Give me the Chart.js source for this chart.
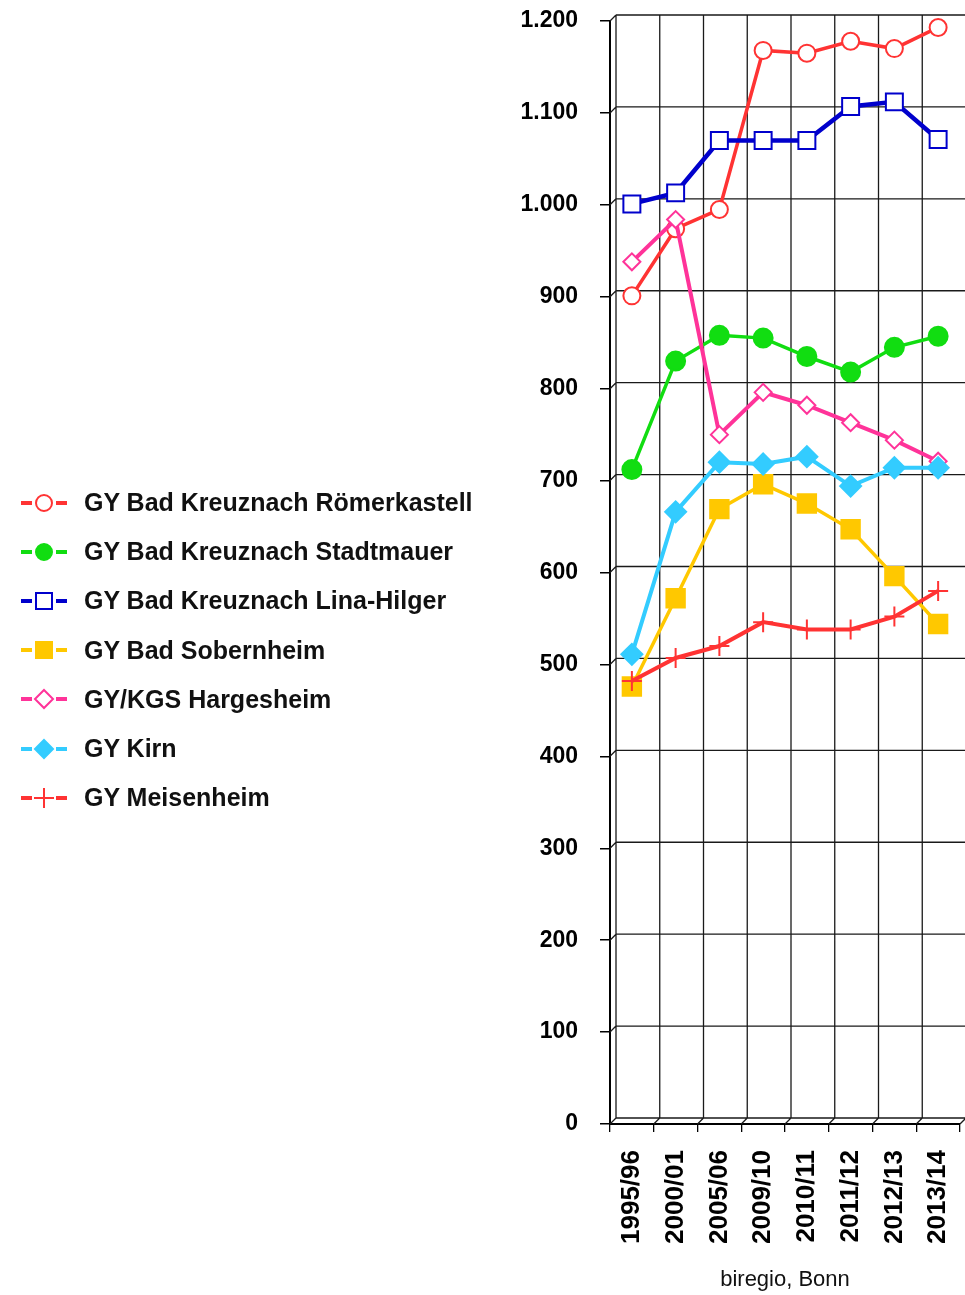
<!DOCTYPE html>
<html>
<head>
<meta charset="utf-8">
<title>Gymnasien Bad Kreuznach</title>
<script src="https://cdn.jsdelivr.net/npm/chart.js"></script>
<style>
  body { margin: 0; background: #fff; }
  #wrap { position: relative; width: 965px; height: 1295px; }
  #legend { position: absolute; left: 21px; top: 478px; font-family: "Liberation Sans", Arial, sans-serif;
            font-weight: bold; font-size: 25px; color: #111; }
  .item { display: flex; align-items: center; height: 49.2px; white-space: nowrap; }
  .item svg { margin-right: 17px; }
</style>
</head>
<body>
<div id="wrap">
  <canvas id="myChart" width="965" height="1295"></canvas>
  <div id="legend"></div>
</div>
<script>
var years = ['1995/96', '2000/01', '2005/06', '2009/10', '2010/11', '2011/12', '2012/13', '2013/14'];

var names = ['GY Bad Kreuznach Römerkastell', 'GY Bad Kreuznach Stadtmauer', 'GY Bad Kreuznach Lina-Hilger',
             'GY Bad Sobernheim', 'GY/KGS Hargesheim', 'GY Kirn', 'GY Meisenheim'];

var roemerkastell = [901, 974, 995, 1168, 1165, 1178, 1170, 1193];
var stadtmauer    = [712, 830, 858, 855, 835, 818, 845, 857];
var linaHilger    = [1001, 1013, 1070, 1070, 1070, 1107, 1112, 1071];
var sobernheim    = [476, 572, 669, 696, 675, 647, 596, 544];
var hargesheim    = [938, 984, 750, 796, 782, 763, 744, 721];
var kirn          = [511, 666, 720, 718, 726, 694, 714, 714];
var meisenheim    = [482, 507, 520, 546, 538, 538, 552, 580];

var yTicks = [0, 100, 200, 300, 400, 500, 600, 700, 800, 900, 1000, 1100, 1200];

// look of each series: colour, marker, filled?
var styles = [
  { color: '#ff3333', shape: 'circle',  r: 8.5, fill: false, lw: 3.5 },
  { color: '#11dd11', shape: 'circle',  r: 9.5, fill: true,  lw: 3.5 },
  { color: '#0000cc', shape: 'rect',    r: 12,  fill: false, lw: 4.5 },
  { color: '#ffc800', shape: 'rect',    r: 13,  fill: true,  lw: 3.5 },
  { color: '#ff3399', shape: 'rectRot', r: 8.5, fill: false, lw: 4 },
  { color: '#33ccff', shape: 'rectRot', r: 10.5, fill: true, lw: 4 },
  { color: '#ff3333', shape: 'cross',   r: 10,  fill: false, lw: 4 }
];
var series = [roemerkastell, stadtmauer, linaHilger, sobernheim, hargesheim, kirn, meisenheim];

var datasets = series.map(function (vals, i) {
  var s = styles[i];
  return {
    label: names[i],
    data: vals,
    borderColor: s.color,
    borderWidth: s.lw,
    tension: 0,
    clip: false,
    pointStyle: s.shape,
    pointRadius: s.r,
    pointHoverRadius: s.r,
    pointBorderColor: s.color,
    pointBackgroundColor: s.fill ? s.color : '#ffffff',
    pointBorderWidth: 2,
    order: series.length - i   // later series on top
  };
});

// excel-ish 3d back wall: grid shifted up/right from the axes
var wallGrid = {
  id: 'wallGrid',
  beforeDatasetsDraw: function (chart) {
    var ctx = chart.ctx, a = chart.chartArea, x = chart.scales.x, y = chart.scales.y, d = 6;
    ctx.save();
    ctx.strokeStyle = '#1a1a1a';
    ctx.lineWidth = 1.3;
    ctx.beginPath();
    y.ticks.forEach(function (t) {
      var py = y.getPixelForValue(t.value);
      ctx.moveTo(a.left + d, py - d); ctx.lineTo(chart.width, py - d);
      ctx.moveTo(a.left, py); ctx.lineTo(a.left + d, py - d);
    });
    for (var i = 0; i <= years.length; i++) {
      var px = x.getPixelForValue(i - 0.5);
      ctx.moveTo(px + d, a.top - d); ctx.lineTo(px + d, a.bottom - d);
      ctx.moveTo(px, a.bottom); ctx.lineTo(px + d, a.bottom - d);
    }
    ctx.stroke();
    ctx.restore();
  }
};

var ctx = document.getElementById('myChart').getContext('2d');
var myChart = new Chart(ctx, {
  type: 'line',
  data: { labels: years, datasets: datasets },
  plugins: [wallGrid],
  options: {
    responsive: false,
    animation: false,
    devicePixelRatio: 1,
    layout: { autoPadding: false, padding: { left: 520, right: 5, top: 21, bottom: 0 } },
    plugins: { legend: { display: false }, tooltip: { enabled: false } },
    scales: {
      x: {
        offset: true,
        grid: { display: true, offset: true, drawOnChartArea: false, tickLength: 8, color: '#000', lineWidth: 1.3 },
        border: { display: true, color: '#000', width: 2 },
        ticks: {
          autoSkip: false, minRotation: 90, maxRotation: 90, padding: 18, color: '#000',
          font: { family: '"Liberation Sans", Arial, sans-serif', size: 26, weight: 'bold' }
        },
        title: {
          display: true, text: 'biregio, Bonn', color: '#111', padding: { top: 0, bottom: 2 },
          font: { family: '"Liberation Sans", Arial, sans-serif', size: 22 }
        },
        afterFit: function (s) { s.height = 171; s.paddingLeft = 0; s.paddingRight = 0; }
      },
      y: {
        min: 0, max: 1200,
        afterBuildTicks: function (s) { s.ticks = yTicks.map(function (v) { return { value: v }; }); },
        grid: { display: true, drawOnChartArea: false, tickLength: 10, color: '#000', lineWidth: 1.5 },
        border: { display: true, color: '#000', width: 2 },
        ticks: {
          padding: 22, color: '#000',
          font: { family: '"Liberation Sans", Arial, sans-serif', size: 23, weight: 'bold' },
          callback: function (v) { return String(v).replace(/(\d)(?=\d{3}$)/, '$1.'); }
        },
        afterFit: function (s) { s.width = 90; s.paddingTop = 0; s.paddingBottom = 0; }
      }
    }
  }
});

// legend built from the same styles
function symbol(s) {
  var c = s.color, mid = 23, cy = 10, m;
  if (s.shape === 'circle') {
    m = '<circle cx="' + mid + '" cy="' + cy + '" r="8" fill="' + (s.fill ? c : '#fff') + '" stroke="' + c + '" stroke-width="2"/>';
  } else if (s.shape === 'rect') {
    m = '<rect x="' + (mid - 8) + '" y="' + (cy - 8) + '" width="16" height="16" fill="' + (s.fill ? c : '#fff') + '" stroke="' + c + '" stroke-width="2"/>';
  } else if (s.shape === 'rectRot') {
    m = '<polygon points="' + mid + ',' + (cy - 9) + ' ' + (mid + 9) + ',' + cy + ' ' + mid + ',' + (cy + 9) + ' ' + (mid - 9) + ',' + cy +
        '" fill="' + (s.fill ? c : '#fff') + '" stroke="' + c + '" stroke-width="2"/>';
  } else {
    m = '<path d="M' + mid + ' ' + (cy - 10) + 'V' + (cy + 10) + 'M' + (mid - 10) + ' ' + cy + 'H' + (mid + 10) + '" stroke="' + c + '" stroke-width="2"/>';
  }
  return '<svg width="46" height="22" viewBox="0 -1 46 22">' +
         '<line x1="0" y1="' + cy + '" x2="11" y2="' + cy + '" stroke="' + c + '" stroke-width="4"/>' +
         '<line x1="35" y1="' + cy + '" x2="46" y2="' + cy + '" stroke="' + c + '" stroke-width="4"/>' + m + '</svg>';
}
var html = '';
names.forEach(function (n, i) {
  html += '<div class="item">' + symbol(styles[i]) + '<span>' + n + '</span></div>';
});
document.getElementById('legend').innerHTML = html;
</script>
</body>
</html>
